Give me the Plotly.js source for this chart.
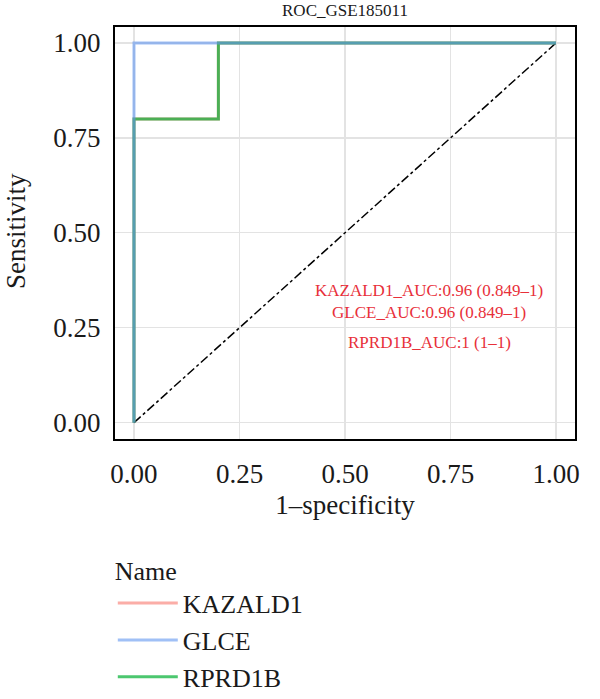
<!DOCTYPE html>
<html>
<head>
<meta charset="utf-8">
<script src="https://cdn.plot.ly/plotly-3.0.1.min.js"></script>
<style>html,body{margin:0;padding:0;background:#fff;}#chart{width:600px;height:699px;}</style>
</head>
<body>
<div id="chart"></div>
<script>
// ROC curve points (1-specificity, sensitivity)
const seriesNames = ["KAZALD1", "GLCE", "RPRD1B"];
const kazald1_fpr = [0, 0, 0.2, 0.2, 1];
const kazald1_tpr = [0, 0.8, 0.8, 1, 1];
const glce_fpr = [0, 0, 1];
const glce_tpr = [0, 1, 1];
const rprd1b_fpr = [0, 0, 0.2, 0.2, 1];
const rprd1b_tpr = [0, 0.8, 0.8, 1, 1];
const diag_x = [0, 1];
const diag_y = [0, 1];
const aucLabels = ["KAZALD1_AUC:0.96 (0.849\u20131)", "GLCE_AUC:0.96 (0.849\u20131)", "RPRD1B_AUC:1 (1\u20131)"];
const aucLabelX = [0.70, 0.70, 0.70];
const aucLabelY = [0.349, 0.291, 0.212];
const tickVals = [0, 0.25, 0.5, 0.75, 1];
const tickText = ["0.00", "0.25", "0.50", "0.75", "1.00"];
const yTitle = "Sensitivity";
const xTitle = "1\u2013specificity";

const FONT = "Liberation Serif, Times New Roman, serif";

const traces = [
  {x: diag_x, y: diag_y, mode: "lines", showlegend: false, hoverinfo: "skip",
   line: {color: "#000", width: 1.5, dash: "dashdot"}},
  {x: kazald1_fpr, y: kazald1_tpr, name: seriesNames[0], mode: "lines", legendrank: 1,
   line: {color: "rgba(248,118,109,0.6)", width: 3}},
  {x: rprd1b_fpr, y: rprd1b_tpr, name: seriesNames[2], mode: "lines", legendrank: 3,
   line: {color: "rgba(0,175,50,0.7)", width: 3}},
  {x: glce_fpr, y: glce_tpr, name: seriesNames[1], mode: "lines", legendrank: 2,
   line: {color: "rgba(97,150,240,0.6)", width: 3}}
];

const annotations = aucLabels.map((t, i) => ({
  x: aucLabelX[i], y: aucLabelY[i], xref: "x", yref: "y", text: t, showarrow: false,
  font: {family: FONT, size: 17, color: "#E8303A"}, xanchor: "center", yanchor: "middle"
}));
// y-axis title drawn as a rotated text label beside the axis
annotations.push({
  text: yTitle, xref: "paper", yref: "paper", x: -0.215, y: 0.505, textangle: -90,
  showarrow: false, xanchor: "center", yanchor: "middle",
  font: {family: FONT, size: 27, color: "#1a1a1a"}
});

const axisCommon = {
  tickvals: tickVals, ticktext: tickText, showgrid: true, gridcolor: "#E3E3E3", gridwidth: 1.3,
  zeroline: false, showline: true, linecolor: "#000", linewidth: 2, mirror: true,
  ticks: "outside", tickcolor: "rgba(0,0,0,0)", tickwidth: 1,
  tickfont: {family: FONT, size: 27, color: "#1a1a1a"}
};

const layout = {
  width: 600, height: 699,
  margin: {l: 115, r: 25, t: 27, b: 260, autoexpand: false},
  paper_bgcolor: "#fff", plot_bgcolor: "#fff",
  title: {text: "ROC_GSE185011", x: 0.575, xanchor: "center", y: 0.985, yanchor: "middle",
          font: {family: FONT, size: 17, color: "#1a1a1a"}},
  xaxis: Object.assign({}, axisCommon, {range: [-0.045, 1.045], ticklen: 10,
          title: {text: xTitle, font: {family: FONT, size: 27, color: "#1a1a1a"}, standoff: 7}}),
  yaxis: Object.assign({}, axisCommon, {range: [-0.043, 1.042], ticklen: 7}),
  showlegend: true,
  legend: {xref: "container", yref: "container", x: 0.188, xanchor: "left", y: 0.219, yanchor: "top", orientation: "v",
           title: {text: "Name", font: {family: FONT, size: 26, color: "#1a1a1a"}},
           font: {family: FONT, size: 26, color: "#1a1a1a"}, itemwidth: 60, tracegroupgap: 0,
           bgcolor: "rgba(0,0,0,0)"},
  annotations: annotations
};

Plotly.newPlot("chart", traces, layout, {displayModeBar: false, staticPlot: true});
</script>
</body>
</html>
